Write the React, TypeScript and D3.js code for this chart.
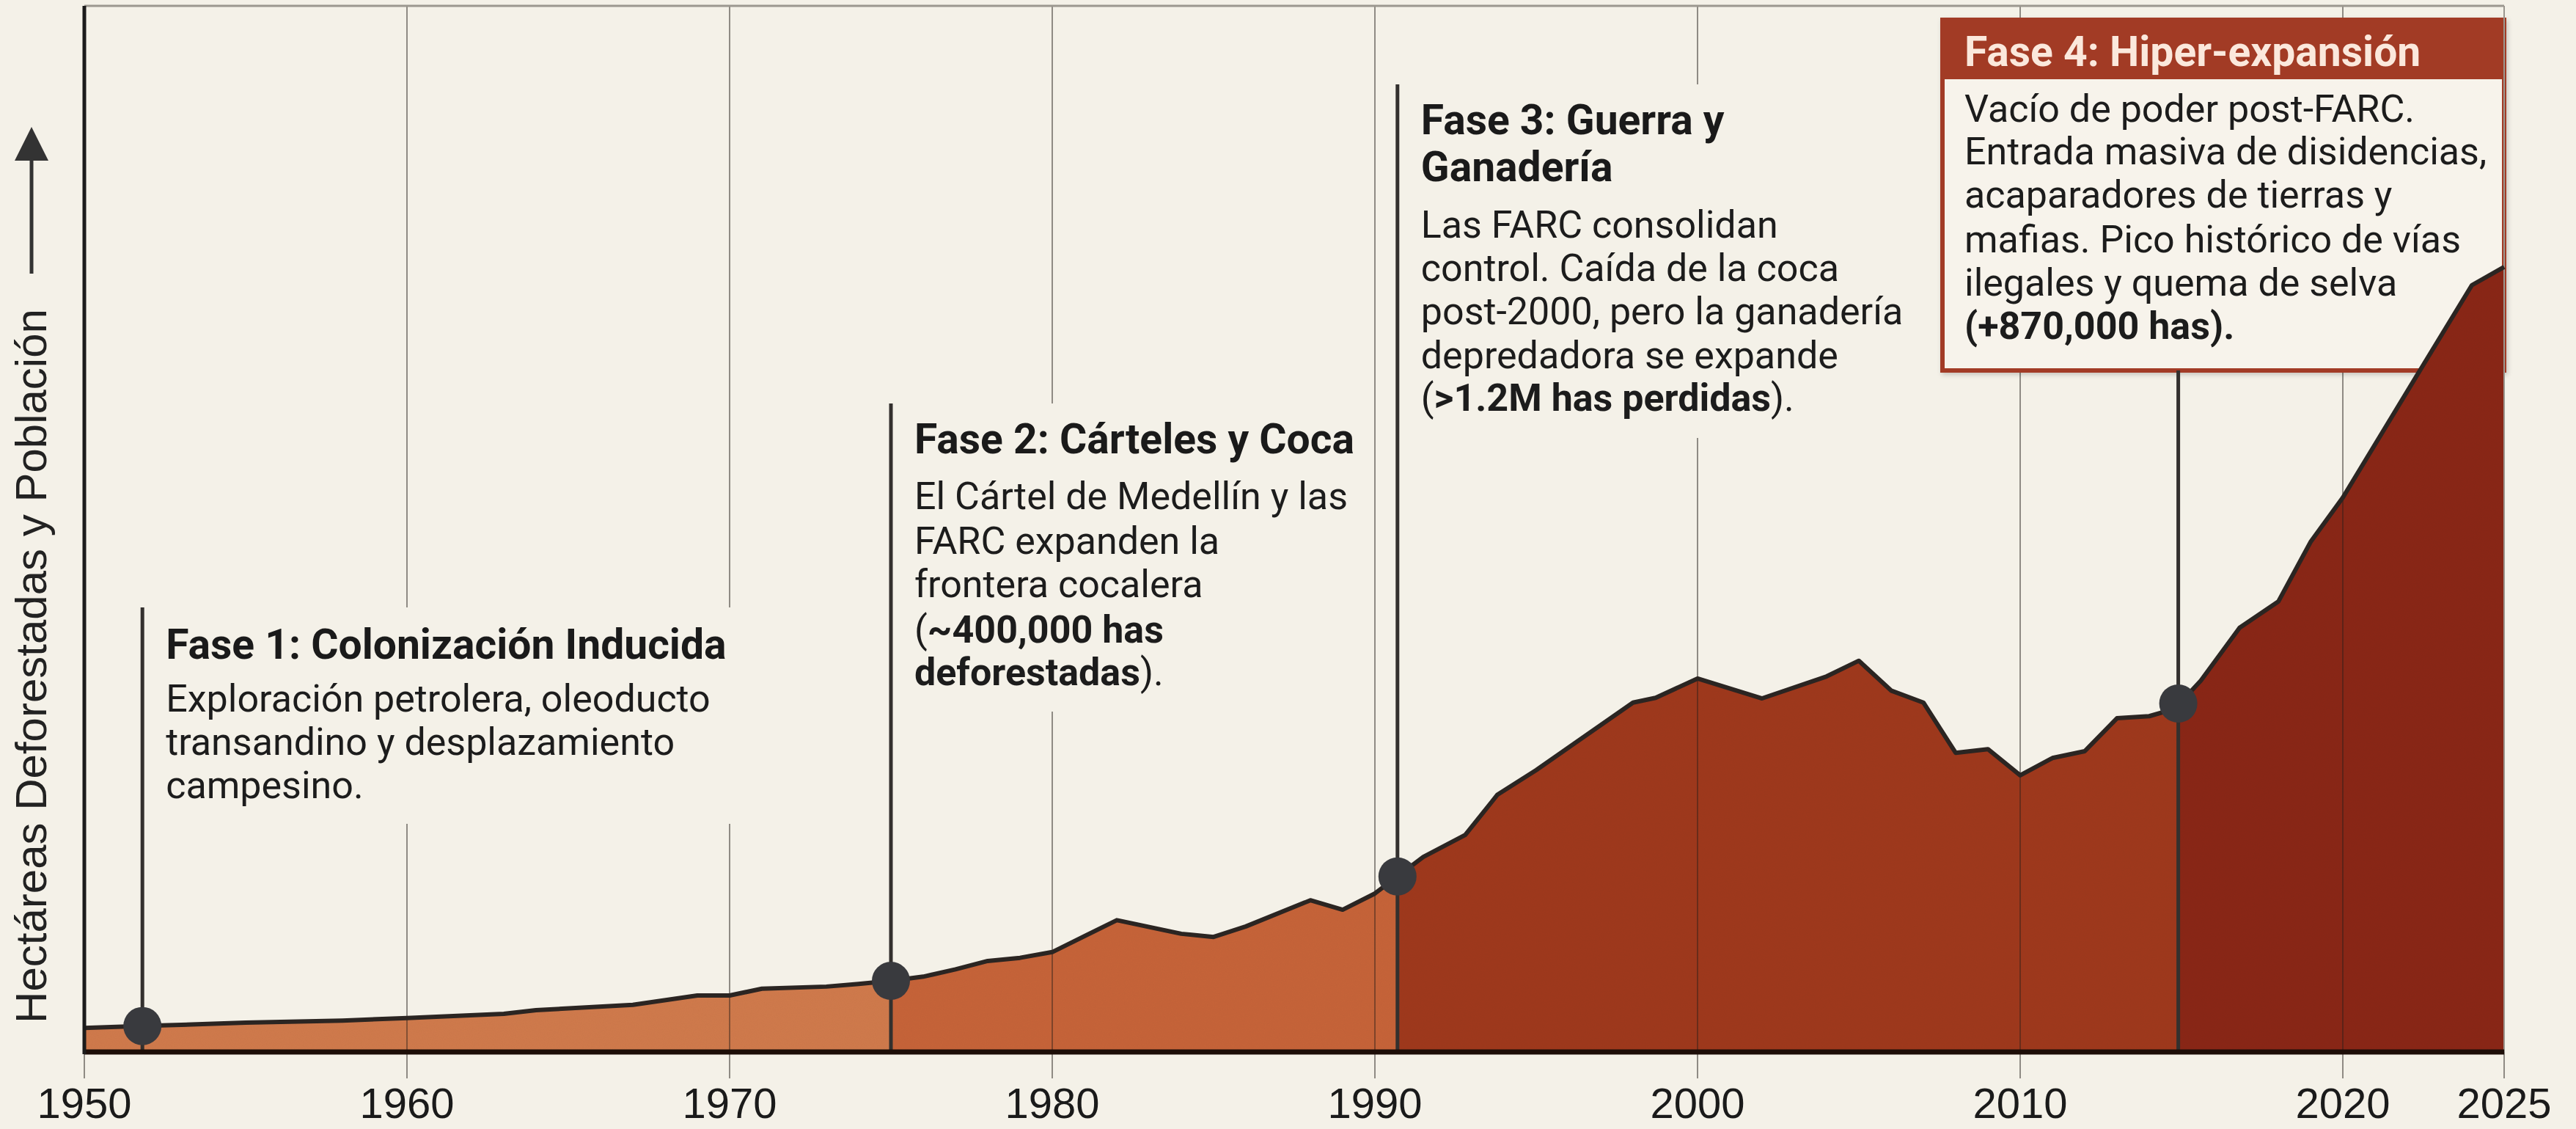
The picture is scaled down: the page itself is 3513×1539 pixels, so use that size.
import React from 'react';
import * as d3 from 'd3';

// ---------- DATA ----------
const years = [1950, 1952, 1955, 1958, 1960, 1963, 1964, 1967, 1969, 1970, 1971, 1973, 1974, 1975, 1976, 1977, 1978, 1979, 1980, 1982, 1984, 1985, 1986, 1988, 1989, 1990, 1991.5, 1992.8, 1993.8, 1995, 1998, 1998.7, 2000, 2002, 2004, 2005, 2006, 2007, 2008, 2009, 2010, 2011, 2012, 2013, 2014, 2014.5, 2015, 2015.6, 2016.8, 2018, 2019, 2020, 2022.4, 2024, 2025];
const hectares = [46, 50, 56, 60, 65, 73, 80, 90, 108, 108, 121, 125, 130, 136, 144, 158, 174, 180, 191, 252, 226, 220, 240, 290, 272, 303, 373, 415, 492, 539, 668, 677, 714, 676, 718, 748, 691, 668, 572, 579, 529, 562, 575, 638, 642, 651, 670, 710, 811, 861, 975, 1060, 1304, 1466, 1501];
const tickYears = [1950, 1960, 1970, 1980, 1990, 2000, 2010, 2020, 2025];
const phaseStarts = [1950, 1975, 1990.7, 2014.9];
const phaseEnds = [1975, 1990.7, 2014.9, 2025];
const markerYears = [1951.8, 1975, 1990.7, 2014.9];
const yTitle = 'Hectáreas Deforestadas y Población';

type Seg = [string, boolean];
const phaseTitles: string[][] = [
  ['Fase 1: Colonización Inducida'],
  ['Fase 2: Cárteles y Coca'],
  ['Fase 3: Guerra y', 'Ganadería'],
  ['Fase 4: Hiper-expansión'],
];
const phaseBodies: Seg[][][] = [
  [
    [['Exploración petrolera, oleoducto', false]],
    [['transandino y desplazamiento', false]],
    [['campesino.', false]],
  ],
  [
    [['El Cártel de Medellín y las', false]],
    [['FARC expanden la', false]],
    [['frontera cocalera', false]],
    [['(', false], ['~400,000 has', true]],
    [['deforestadas', true], [').', false]],
  ],
  [
    [['Las FARC consolidan', false]],
    [['control. Caída de la coca', false]],
    [['post-2000, pero la ganadería', false]],
    [['depredadora se expande', false]],
    [['(', false], ['>1.2M has perdidas', true], [').', false]],
  ],
  [
    [['Vacío de poder post-FARC.', false]],
    [['Entrada masiva de disidencias,', false]],
    [['acaparadores de tierras y', false]],
    [['mafias. Pico histórico de vías', false]],
    [['ilegales y quema de selva', false]],
    [['(+870,000 has).', true]],
  ],
];

// ---------- STYLE / LAYOUT ----------
const W = 3513, H = 1539;
const M = { left: 115, right: 3415, top: 8, bottom: 1434 };
const phaseColors = ['#d17c4d', '#c7653b', '#a03a22', '#8b2b1b'];
const paper = '#f4f1e8';
const accent = '#a23b25';
const titleFont = 'Roboto, "Open Sans", sans-serif';
const axisFont = '"Liberation Sans", Arial, sans-serif';

// annotation layout: line top, title baselines, body baselines, background box
const annot = [
  { lineTop: 828, titleY: [898], bodyY: [970, 1029, 1088], bg: [215, 828, 1015, 1123] },
  { lineTop: 550, titleY: [618], bodyY: [694, 755, 814, 876, 934], bg: [1225, 550, 1855, 970] },
  { lineTop: 115, titleY: [183, 247], bodyY: [324, 383, 442, 502, 560], bg: [1915, 115, 2480, 597] },
  { lineTop: 505, titleY: [90], bodyY: [166, 224, 283, 344, 403, 462], bg: [2649, 27, 3415, 505] },
];

export default function App() {
  const x = d3.scaleLinear().domain([1950, 2025]).range([M.left, M.right]);
  const y = d3.scaleLinear().domain([0, 2000]).range([M.bottom, M.top]);
  const data = years.map((yr, i) => ({ yr, v: hectares[i] }));
  const area = d3.area<{ yr: number; v: number }>().x(d => x(d.yr)).y0(y(0)).y1(d => y(d.v));
  const line = d3.line<{ yr: number; v: number }>().x(d => x(d.yr)).y(d => y(d.v));
  const interp = (yr: number) => {
    const i = d3.bisector((d: { yr: number }) => d.yr).left(data, yr);
    if (i <= 0) return data[0].v;
    if (i >= data.length) return data[data.length - 1].v;
    const a = data[i - 1], b = data[i];
    return a.v + ((yr - a.yr) / (b.yr - a.yr)) * (b.v - a.v);
  };
  const areaD = area(data) || '';
  const lineD = line(data) || '';

  const renderBody = (lines: Seg[][], ys: number[], tx: number) =>
    lines.map((segs, li) => (
      <text key={li} x={tx} y={ys[li]} fontFamily={titleFont} fontSize={52} fill="#1c1c1c">
        {segs.map((s, si) => (
          <tspan key={si} fontWeight={s[1] ? 700 : 400}>{s[0]}</tspan>
        ))}
      </text>
    ));

  const gridLines = (stroke: string, op: number) =>
    tickYears.map(t => (
      <line key={t} x1={x(t)} x2={x(t)} y1={M.top} y2={1470} stroke={stroke} strokeOpacity={op} strokeWidth={2} />
    ));

  const a4 = annot[3];
  const [bx0, by0, bx1, by1] = a4.bg;

  return (
    <svg width={W} height={H} style={{ position: 'absolute', left: 0, top: 0, display: 'block' }}>
      <defs>
        {phaseStarts.map((s, i) => (
          <clipPath id={`ph${i}`} key={i}>
            <rect x={x(s)} y={0} width={x(phaseEnds[i]) - x(s)} height={H} />
          </clipPath>
        ))}
        <clipPath id="areaClip">
          <path d={areaD} />
        </clipPath>
        <filter id="grain" x="0" y="0" width="100%" height="100%">
          <feTurbulence type="fractalNoise" baseFrequency="0.9" numOctaves="2" seed="3" result="n" />
          <feColorMatrix in="n" type="matrix" values="0 0 0 0 0  0 0 0 0 0  0 0 0 0 0  0 0 0 0.08 0" result="a" />
          <feComposite in="a" in2="SourceGraphic" operator="in" result="g" />
          <feMerge>
            <feMergeNode in="SourceGraphic" />
            <feMergeNode in="g" />
          </feMerge>
        </filter>
        <filter id="soft" x="-5%" y="-5%" width="110%" height="110%">
          <feDropShadow dx="2" dy="3" stdDeviation="3" floodColor="#000" floodOpacity="0.18" />
        </filter>
      </defs>

      <rect x={0} y={0} width={W} height={H} fill={paper} />

      {/* gridlines on paper */}
      {gridLines('#8f8b84', 1)}

      {/* annotation background boxes hide gridlines */}
      {annot.slice(0, 3).map((a, i) => (
        <rect key={i} x={a.bg[0]} y={a.bg[1]} width={a.bg[2] - a.bg[0]} height={a.bg[3] - a.bg[1]} fill={paper} />
      ))}

      {/* top border */}
      <line x1={M.left} x2={M.right} y1={M.top} y2={M.top} stroke="#9b978f" strokeWidth={3} />

      {/* phase 4 box (area drawn over it) */}
      <g>
        <rect x={bx0} y={by0} width={bx1 - bx0} height={by1 - by0} fill="#f7f3eb" stroke={accent} strokeWidth={6} filter="url(#soft)" />
        <rect x={bx0} y={by0} width={bx1 - bx0} height={81} fill={accent} />
        <text x={bx0 + 30} y={a4.titleY[0]} fontFamily={titleFont} fontWeight={700} fontSize={57} fill="#fbe8dc">{phaseTitles[3][0]}</text>
        {renderBody(phaseBodies[3], a4.bodyY, bx0 + 30)}
      </g>

      {/* area by phase */}
      <g filter="url(#grain)">
        {phaseColors.map((c, i) => (
          <path key={i} d={areaD} fill={c} clipPath={`url(#ph${i})`} />
        ))}
      </g>

      {/* gridlines seen through the area */}
      <g clipPath="url(#areaClip)">{gridLines('#2a1e18', 0.45)}</g>

      <line x1={M.right} x2={M.right} y1={M.top} y2={M.bottom} stroke="#9b978f" strokeWidth={2} />

      {/* phase vertical lines */}
      {markerYears.map((m, i) => (
        <line key={i} x1={x(m)} x2={x(m)} y1={annot[i].lineTop} y2={M.bottom} stroke="#33302e" strokeWidth={5} />
      ))}

      {/* curve */}
      <path d={lineD} fill="none" stroke="#2b2522" strokeWidth={6} strokeLinejoin="round" />

      {/* baseline & left axis */}
      <line x1={M.left} x2={M.right} y1={M.bottom} y2={M.bottom} stroke="#1d0e08" strokeWidth={7} />
      <line x1={M.left} x2={M.left} y1={M.top} y2={M.bottom + 3} stroke="#1b1b1b" strokeWidth={5} />

      {/* markers */}
      {markerYears.map((m, i) => (
        <circle key={i} cx={x(m)} cy={y(interp(m))} r={26} fill="#393a3e" />
      ))}

      {/* tick labels */}
      {tickYears.map(t => (
        <text key={t} x={x(t)} y={1524} textAnchor="middle" fontFamily={axisFont} fontSize={58} fill="#1a1a1a">{t}</text>
      ))}

      {/* y title + arrow */}
      <text transform={`translate(63, 908) rotate(-90)`} textAnchor="middle" fontFamily={axisFont} fontSize={60} fill="#222">{yTitle}</text>
      <line x1={43} x2={43} y1={373} y2={212} stroke="#333" strokeWidth={5} />
      <polygon points="43,173 20,219 66,219" fill="#333" />

      {/* annotations 1-3 */}
      {[0, 1, 2].map(i => {
        const tx = x(markerYears[i]) + 32;
        const a = annot[i];
        return (
          <g key={i}>
            {phaseTitles[i].map((t, ti) => (
              <text key={ti} x={tx} y={a.titleY[ti]} fontFamily={titleFont} fontWeight={700} fontSize={57} fill="#1a1a1a">{t}</text>
            ))}
            {renderBody(phaseBodies[i], a.bodyY, tx)}
          </g>
        );
      })}
    </svg>
  );
}
